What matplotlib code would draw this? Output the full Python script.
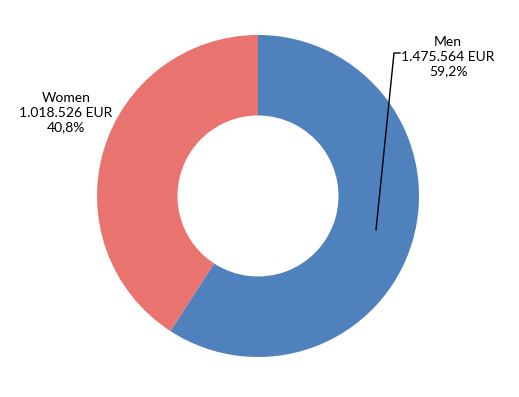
import matplotlib
matplotlib.use("Agg")
import matplotlib.pyplot as plt

# data
categories = ["Men", "Women"]
amounts = [1475564, 1018526]
amount_labels = ["1.475.564 EUR", "1.018.526 EUR"]
pct_labels = ["59,2%", "40,8%"]
colors = ["#4F81BD", "#E8736F"]

W, H = 519, 397
fig = plt.figure(figsize=(W / 100, H / 100), dpi=100)
ax = fig.add_axes([0, 0, 1, 1])
ax.set_xlim(0, W)
ax.set_ylim(0, H)
ax.set_aspect("equal")
ax.axis("off")

cx, cy = 258, H - 196
R = 161
ax.pie(amounts, colors=colors, startangle=90, counterclock=False,
       center=(cx, cy), radius=R,
       wedgeprops=dict(width=R * 0.5, edgecolor="none"))
ax.set_xlim(0, W)
ax.set_ylim(0, H)

font = dict(family=["Lato", "DejaVu Sans"], fontsize=10, color="black",
            ha="center", va="center", linespacing=1.25)

ax.text(448, H - 57, "%s\n%s\n%s" % (categories[0], amount_labels[0], pct_labels[0]), **font)
ax.text(66, H - 113, "%s\n%s\n%s" % (categories[1], amount_labels[1], pct_labels[1]), **font)

# leader line for Men label
ax.plot([376, 394, 400], [H - 230, H - 53, H - 53], color="black", lw=1.0)

fig.savefig("out.png", dpi=100)
